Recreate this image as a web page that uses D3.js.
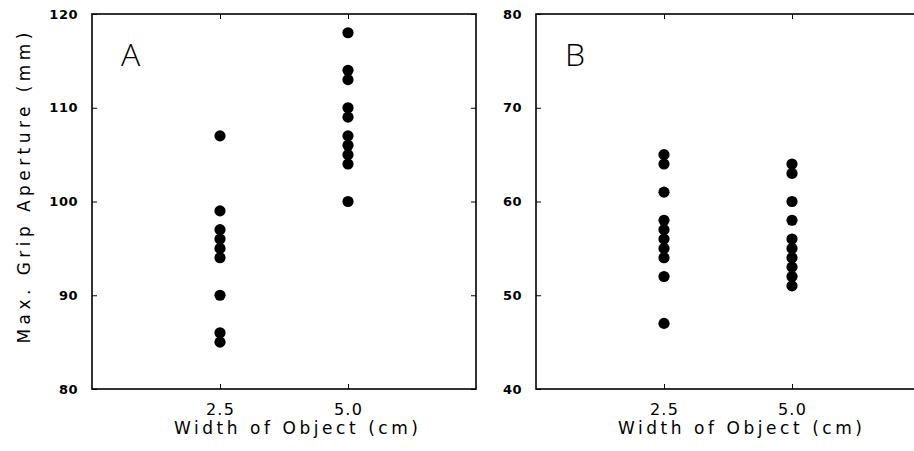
<!DOCTYPE html>
<html>
<head>
<meta charset="utf-8">
<script src="https://cdn.jsdelivr.net/npm/d3@7"></script>
<style>
  html, body { margin: 0; padding: 0; background: #fff; }
  svg { display: block; }
</style>
</head>
<body>
<svg id="chart" width="914" height="451"></svg>
<script>
// ---- data ----
const widths = [2.5, 5.0];
const xTickLabels = ["2.5", "5.0"];
const panelA_w25 = [107, 99, 97, 96, 95, 94, 90, 86, 85];
const panelA_w50 = [118, 114, 113, 110, 109, 107, 106, 105, 104, 100];
const panelB_w25 = [65, 64, 61, 58, 57, 56, 55, 54, 52, 47];
const panelB_w50 = [64, 63, 60, 58, 56, 55, 54, 53, 52, 51];
const yTicksA = [80, 90, 100, 110, 120];
const yTicksB = [40, 50, 60, 70, 80];
const panelLabels = ["A", "B"];
const xTitle = "Width of Object (cm)";
const yTitle = "Max. Grip Aperture (mm)";

const svg = d3.select("#chart");

const panels = [
  { left: 92, label: panelLabels[0], yDomain: [80, 120], yTicks: yTicksA, series: [panelA_w25, panelA_w50], yTitle: true },
  { left: 536, label: panelLabels[1], yDomain: [40, 80], yTicks: yTicksB, series: [panelB_w25, panelB_w50], yTitle: false }
];
const plotTop = 14, plotBottom = 389, pw = 384;
const tickFont = "'DejaVu Sans', sans-serif";

panels.forEach(p => {
  const x = d3.scaleLinear().domain([0, 7.5]).range([p.left, p.left + pw]);
  const y = d3.scaleLinear().domain(p.yDomain).range([plotBottom, plotTop]);
  const g = svg.append("g");

  // frame
  g.append("rect")
    .attr("x", x(0)).attr("y", y(p.yDomain[1]))
    .attr("width", x(7.5) - x(0)).attr("height", y(p.yDomain[0]) - y(p.yDomain[1]))
    .attr("fill", "none").attr("stroke", "#000").attr("stroke-width", 1.6);

  const yl = g.append("g").attr("transform", `translate(${x(0)},0)`)
    .call(d3.axisLeft(y).tickValues(p.yTicks).tickSize(-5).tickPadding(14).tickFormat(d3.format("d")));
  const yr = g.append("g").attr("transform", `translate(${x(7.5)},0)`)
    .call(d3.axisRight(y).tickValues(p.yTicks).tickSize(-5).tickFormat(""));
  const xb = g.append("g").attr("transform", `translate(0,${y(p.yDomain[0])})`)
    .call(d3.axisBottom(x).tickValues(widths).tickSize(-5).tickPadding(15)
      .tickFormat((d, i) => xTickLabels[i]));
  const xt = g.append("g").attr("transform", `translate(0,${y(p.yDomain[1])})`)
    .call(d3.axisTop(x).tickValues(widths).tickSize(-5).tickFormat(""));

  [yl, yr, xb, xt].forEach(a => {
    a.select(".domain").remove();
    a.selectAll(".tick line").attr("stroke", "#000").attr("stroke-width", 1);
  });
  yl.selectAll(".tick text")
    .attr("font-family", tickFont).attr("font-size", 13).attr("font-weight", "bold")
    .attr("letter-spacing", 0.5).attr("fill", "#000");
  xb.selectAll(".tick text")
    .attr("font-family", tickFont).attr("font-size", 16)
    .attr("letter-spacing", 1.2).attr("fill", "#000");

  p.series.forEach((vals, i) => {
    g.selectAll(null).data(vals).enter().append("circle")
      .attr("cx", x(widths[i])).attr("cy", d => y(d))
      .attr("r", 5.6).attr("fill", "#000");
  });

  g.append("text")
    .attr("x", x(0) + 204).attr("y", 434)
    .attr("text-anchor", "middle")
    .attr("font-family", tickFont).attr("font-size", 17)
    .attr("textLength", 244).attr("lengthAdjust", "spacing")
    .attr("fill", "#000")
    .text(xTitle);

  g.append("text")
    .attr("x", x(0) + 29).attr("y", 66)
    .attr("font-family", "'Open Sans', 'Noto Sans', sans-serif").attr("font-size", 32)
    .attr("font-weight", 300)
    .attr("fill", "#000")
    .text(p.label);

  if (p.yTitle) {
    g.append("text")
      .attr("transform", `translate(30,188) rotate(-90)`)
      .attr("text-anchor", "middle")
      .attr("font-family", tickFont).attr("font-size", 17)
      .attr("textLength", 311).attr("lengthAdjust", "spacing")
      .attr("fill", "#000")
      .text(yTitle);
  }
});
</script>
</body>
</html>
